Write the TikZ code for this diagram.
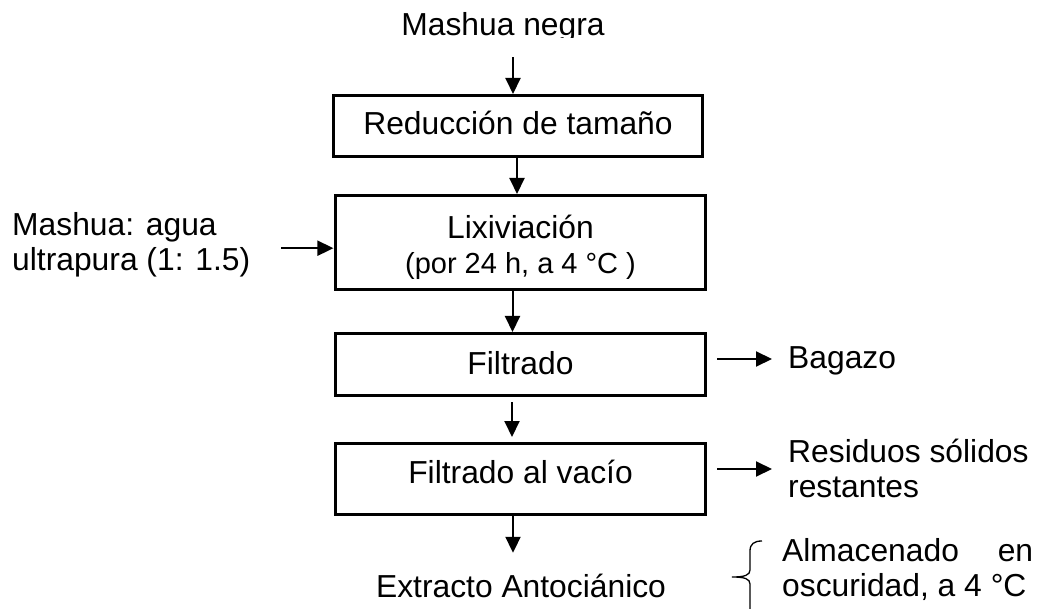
\documentclass[tikz,border=0pt]{standalone}
\usepackage{fontspec}
\setmainfont{Liberation Sans}
\usetikzlibrary{arrows.meta}
\tikzset{
  boxnode/.style={draw, line width=2.7pt, inner sep=0pt, align=center},
  oneline/.style={text height=24pt, text depth=6pt},
  txt/.style={inner sep=0pt},
  arr/.style={line width=2pt, -{Triangle[length=16pt,width=15pt]}},
  bracepath/.style={line width=1.3pt}
}
\begin{document}
\begin{tikzpicture}[x=1pt,y=-1pt,font=\fontsize{31.8pt}{35pt}\selectfont]
\useasboundingbox (0,0) rectangle (1038,609);
\fill[white] (0,0) rectangle (1038,609);
% top label (clipped at bottom as in the reference)
\begin{scope}
\clip (0,0) rectangle (1038,38);
\node[txt, anchor=base] (top) at (503,36) {Mashua negra};
\end{scope}
% boxes
\node[boxnode, oneline, minimum width=369.3pt, minimum height=61.3pt] (b1) at (518,126) {Reducción de tamaño};
\node[boxnode, minimum width=370.3pt, minimum height=94.3pt] (b2) at (520.5,242.5)
  {\rule{0pt}{36.6pt}Lixiviación\\{\fontsize{29pt}{35pt}\selectfont (por 24 h, a 4 °C )\rule[-10pt]{0pt}{10pt}}};
\node[boxnode, text height=25pt, text depth=5.4pt, minimum width=370.3pt, minimum height=62.3pt] (b3) at (520.5,364.5) {Filtrado};
\node[boxnode, text height=24pt, text depth=15.4pt, minimum width=370.3pt, minimum height=71.3pt] (b4) at (520.5,479) {Filtrado al vacío};
% side texts
\node[txt, align=left, anchor=north west] (ratio) at (12,210)
  {\rule{0pt}{25pt}Mashua: agua\\ultrapura (1: 1.5)\rule[-8pt]{0pt}{8pt}};
\node[txt, anchor=base west] (bag) at (788,368) {Bagazo};
\node[txt, align=left, anchor=north west] (res) at (788,437)
  {\rule{0pt}{25pt}Residuos sólidos\\restantes};
\node[txt, text height=24pt, anchor=base] (ext) at (521,597) {Extracto Antociánico};
\node[txt, align=left, anchor=north west] (alm) at (782,536)
  {\rule{0pt}{25pt}\hbox to 251pt{Almacenado\hfil en}\\oscuridad, a 4 °C};
% main flow arrows
\draw[arr] ([xshift=10pt,yshift=-14.3pt]top.south) -- ([xshift=-5pt]b1.north);
\draw[arr] ([xshift=-1pt]b1.south) -- ([xshift=-1pt]b1.south |- b2.north);
\draw[arr] ([xshift=-8pt]b2.south) -- ([xshift=-8pt]b2.south |- b3.north);
\draw[arr, shorten >=5pt] ([xshift=-8.5pt,yshift=-5pt]b3.south) -- ([xshift=-8.5pt]b3.south |- b4.north);
\draw[arr, shorten >=20pt] ([xshift=-7.5pt]b4.south) -- ([xshift=-7.5pt]b4.south |- ext.north);
% side arrows
\draw[arr] ([xshift=31pt,yshift=-4pt]ratio.east) -- ++(52pt,0pt);
\draw[arr] ([xshift=10pt,yshift=5.5pt]b3.east) -- ++(55pt,0pt);
\draw[arr] ([xshift=10pt,yshift=10pt]b4.east) -- ++(55pt,0pt);
% brace (its lower end runs past the bottom edge, as in the reference)
\draw[bracepath] (762,541) .. controls (754,541) and (750,544) .. (750,551) -- (750,570)
  .. controls (750,575) and (745,577) .. (732,577)
  .. controls (745,577) and (750,579) .. (750,584) -- (750,614)
  .. controls (750,620) and (754,623) .. (762,623);
\end{tikzpicture}
\end{document}
